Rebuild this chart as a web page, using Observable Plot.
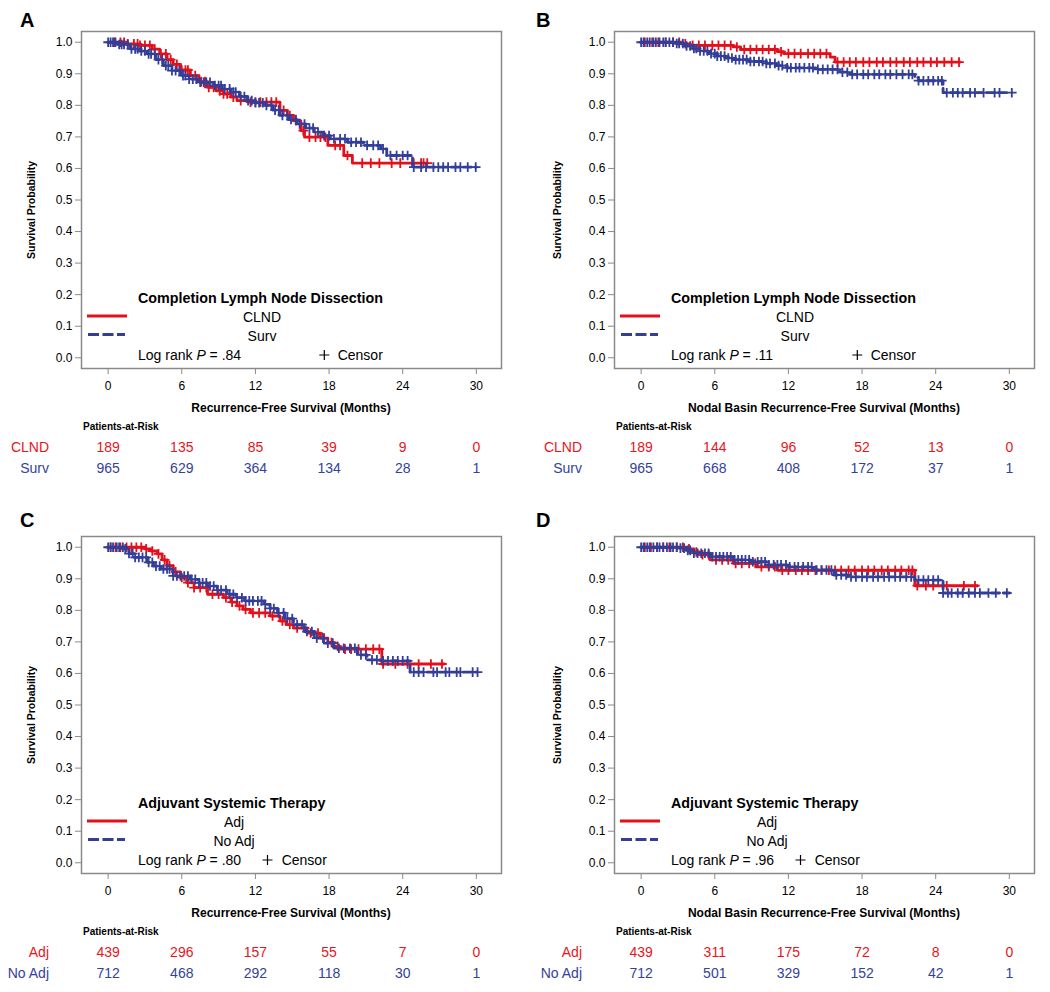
<!DOCTYPE html>
<html><head><meta charset="utf-8">
<script src="https://cdn.jsdelivr.net/npm/d3@7"></script>
<script src="https://cdn.jsdelivr.net/npm/@observablehq/plot@0.6"></script>
<style>
body{margin:0;background:#fff;overflow:hidden}
#wrap{position:relative;width:1050px;height:992px;background:#fff}
.panel{position:absolute}
</style></head><body><div id="wrap"></div>
<script>
// ---------- ticks ----------
const xTicks = [0, 6, 12, 18, 24, 30];
const yTicks = [0, 0.1, 0.2, 0.3, 0.4, 0.5, 0.6, 0.7, 0.8, 0.9, 1.0];
const riskTimes = [0, 6, 12, 18, 24, 30];

// ---------- text ----------
const panelLetters = ["A", "B", "C", "D"];
const xLabels = [
  "Recurrence-Free Survival (Months)",
  "Nodal Basin Recurrence-Free Survival (Months)",
  "Recurrence-Free Survival (Months)",
  "Nodal Basin Recurrence-Free Survival (Months)"
];
const legendTitles = [
  "Completion Lymph Node Dissection",
  "Completion Lymph Node Dissection",
  "Adjuvant Systemic Therapy",
  "Adjuvant Systemic Therapy"
];
const groupNames = [["CLND", "Surv"], ["CLND", "Surv"], ["Adj", "No Adj"], ["Adj", "No Adj"]];
const pValues = [".84", ".11", ".80", ".96"];

// ---------- KM step curves [month, survival] ----------
const A_CLND = [[0,1.0],[1.5,0.995],[2.5,0.99],[3.6,0.978],[4.2,0.963],[4.8,0.945],[5.3,0.93],[5.9,0.912],[6.7,0.894],[7.4,0.875],[8.1,0.857],[8.8,0.846],[9.4,0.836],[10.0,0.826],[10.5,0.815],[11.5,0.81],[14.0,0.784],[14.6,0.768],[15.1,0.751],[15.7,0.72],[16.0,0.699],[17.9,0.673],[19.2,0.641],[19.9,0.617],[26.0,0.617]];
const A_Surv = [[0,1.0],[0.8,0.993],[1.8,0.979],[2.5,0.972],[3.2,0.963],[3.9,0.945],[4.5,0.926],[5.2,0.91],[5.9,0.894],[6.6,0.883],[7.3,0.873],[8.6,0.863],[9.3,0.852],[10.0,0.842],[10.7,0.828],[11.3,0.815],[12.0,0.808],[12.7,0.8],[13.4,0.785],[14.0,0.768],[14.7,0.755],[15.4,0.741],[16.1,0.728],[16.8,0.715],[17.5,0.704],[18.1,0.694],[19.5,0.683],[20.8,0.673],[22.2,0.662],[22.7,0.641],[24.8,0.604],[30.0,0.604]];
const B_CLND = [[0,1.0],[3.3,0.995],[4.0,0.99],[7.5,0.985],[8.1,0.977],[11.1,0.97],[11.6,0.964],[15.4,0.953],[15.8,0.937],[26.0,0.937]];
const B_Surv = [[0,1.0],[2.9,0.996],[3.6,0.988],[4.2,0.98],[4.8,0.972],[5.5,0.964],[6.2,0.956],[6.9,0.95],[7.5,0.945],[8.8,0.939],[10.2,0.933],[11.0,0.926],[11.9,0.919],[14.3,0.914],[16.2,0.905],[17.0,0.898],[22.3,0.888],[22.6,0.878],[24.6,0.84],[30.0,0.84]];
const C_Adj = [[0,1.0],[3.0,0.995],[3.5,0.988],[4.0,0.979],[4.4,0.96],[4.8,0.942],[5.3,0.922],[5.9,0.904],[6.4,0.888],[7.0,0.872],[8.1,0.851],[9.4,0.84],[10.0,0.826],[10.5,0.814],[11.0,0.803],[11.6,0.792],[13.2,0.782],[14.0,0.766],[14.5,0.755],[15.1,0.744],[16.2,0.728],[17.3,0.712],[17.9,0.698],[18.4,0.686],[18.9,0.677],[22.3,0.63],[27.4,0.63]];
const C_NoAdj = [[0,1.0],[1.3,0.995],[1.7,0.98],[2.1,0.968],[3.2,0.952],[3.7,0.94],[4.3,0.931],[5.3,0.909],[6.7,0.898],[7.4,0.887],[8.1,0.877],[8.9,0.864],[9.7,0.851],[10.4,0.84],[11.1,0.83],[12.7,0.819],[13.2,0.806],[13.8,0.792],[14.4,0.774],[15.1,0.755],[16.0,0.733],[16.8,0.712],[17.6,0.696],[18.4,0.68],[20.3,0.659],[21.1,0.643],[22.3,0.64],[24.6,0.604],[30.0,0.604]];
const D_Adj = [[0,1.0],[3.7,0.995],[4.3,0.985],[4.8,0.976],[5.6,0.96],[7.5,0.949],[9.4,0.938],[11.1,0.927],[22.3,0.878],[27.4,0.878]];
const D_NoAdj = [[0,1.0],[3.0,0.997],[3.7,0.99],[4.3,0.981],[5.6,0.97],[7.5,0.96],[8.9,0.954],[10.2,0.944],[11.9,0.938],[14.0,0.928],[15.7,0.912],[16.8,0.906],[22.3,0.896],[24.6,0.855],[30.0,0.855]];

// ---------- censored times (months) ----------
const A_CLND_cens = [0.5,1.0,1.3,1.6,2.1,2.4,2.6,3.0,3.4,3.8,4.3,4.7,5.1,5.6,6.0,6.3,6.5,7.1,7.6,7.9,8.2,8.6,9.1,9.4,9.7,10.2,10.8,11.6,12.0,12.4,12.9,13.3,13.7,14.3,14.8,15.3,15.9,16.4,16.9,17.3,17.7,18.5,18.9,19.5,20.7,21.4,22.1,23.1,23.8,24.9,25.5,25.7,26.0];
const A_Surv_cens = [0.0,0.2,0.4,0.6,0.9,1.1,1.3,1.6,1.9,2.2,2.4,2.7,3.0,3.3,3.5,3.8,4.1,4.4,4.7,4.9,5.2,5.5,5.8,6.1,6.3,6.6,6.9,7.2,7.5,7.8,8.0,8.3,8.7,9.0,9.2,9.5,9.9,10.2,10.4,10.8,11.1,11.4,11.7,12.0,12.3,12.6,12.9,13.3,13.6,13.9,14.2,14.6,14.9,15.3,15.6,16.0,16.4,16.7,17.1,17.6,18.0,18.4,18.9,19.3,19.8,20.2,20.6,21.1,21.6,22.0,22.4,23.0,23.5,24.0,24.4,24.9,25.5,25.9,26.5,26.9,27.3,27.7,28.3,28.7,29.3,29.95];
const B_CLND_cens = [0.3,0.9,1.4,2.0,2.6,3.1,3.6,4.2,4.7,5.2,5.8,6.3,6.8,7.3,7.8,8.4,8.9,9.4,9.9,10.4,10.9,11.4,12.0,12.5,13.0,13.6,14.1,14.6,15.1,16.0,16.5,17.0,17.5,18.1,18.6,19.2,19.7,20.3,20.8,21.4,21.9,22.5,23.0,23.6,24.1,24.7,25.3,25.9];
const B_Surv_cens = [0.0,0.2,0.5,0.7,1.0,1.2,1.5,1.8,2.0,2.3,2.6,2.9,3.1,3.4,3.7,4.0,4.3,4.5,4.8,5.1,5.4,5.7,6.0,6.2,6.5,6.8,7.1,7.4,7.7,8.0,8.3,8.6,8.9,9.2,9.6,9.9,10.2,10.5,10.9,11.2,11.5,11.9,12.2,12.6,12.9,13.3,13.7,14.0,14.4,14.8,15.2,15.6,16.0,16.4,16.8,17.2,17.6,18.1,18.5,19.0,19.4,19.9,20.3,20.8,21.3,21.8,22.1,22.6,23.0,23.4,23.8,24.2,24.5,24.9,25.4,25.8,26.2,26.8,27.2,27.9,28.8,29.2,30.2];
const C_Adj_cens = [0.2,0.6,1.0,1.5,1.9,2.3,2.7,3.1,3.6,4.1,4.6,5.0,5.5,6.0,6.5,7.0,7.5,8.0,8.5,9.0,9.6,10.1,10.7,11.2,11.8,12.3,12.8,13.4,14.2,14.8,15.4,16.0,16.5,17.1,17.6,18.2,18.7,19.3,19.8,20.4,21.0,21.6,22.1,22.4,23.4,24.4,25.3,26.3,27.2];
const C_NoAdj_cens = [0.0,0.2,0.4,0.7,0.9,1.2,1.4,1.7,2.0,2.2,2.5,2.8,3.1,3.3,3.6,3.9,4.2,4.5,4.8,5.0,5.3,5.6,5.9,6.2,6.5,6.8,7.1,7.4,7.7,8.0,8.3,8.6,8.9,9.2,9.6,9.9,10.2,10.5,10.9,11.2,11.5,11.8,12.2,12.5,12.8,13.2,13.5,13.9,14.3,14.6,15.0,15.4,15.8,16.2,16.6,17.0,17.5,17.9,18.3,18.8,19.2,19.7,20.1,20.6,21.0,21.5,21.9,22.4,22.8,23.2,23.6,24.0,24.4,24.9,25.3,25.7,26.5,26.8,27.5,27.8,28.4,28.7,29.7,30.1];
const D_Adj_cens = [0.3,0.8,1.3,1.8,2.3,2.9,3.4,3.9,4.5,5.0,5.5,6.1,6.6,7.1,7.7,8.2,8.8,9.3,9.8,10.4,10.9,11.5,12.0,12.6,13.1,13.6,14.2,14.7,15.3,15.8,16.3,16.9,17.4,18.0,18.5,19.0,19.6,20.1,20.7,21.2,21.8,22.1,22.5,23.2,23.8,24.9,26.3,27.2];
const D_NoAdj_cens = [0.0,0.2,0.5,0.7,1.0,1.3,1.5,1.8,2.1,2.4,2.6,2.9,3.2,3.5,3.8,4.0,4.3,4.6,4.9,5.2,5.5,5.8,6.1,6.4,6.7,7.0,7.3,7.6,7.9,8.2,8.5,8.8,9.1,9.5,9.8,10.1,10.4,10.8,11.1,11.4,11.8,12.1,12.5,12.8,13.2,13.6,13.9,14.3,14.7,15.1,15.5,15.9,16.3,16.7,17.1,17.5,18.0,18.4,18.9,19.3,19.8,20.2,20.7,21.1,21.6,22.0,22.6,23.0,23.4,23.8,24.2,24.6,25.0,25.3,25.8,26.2,26.7,27.2,27.6,28.3,28.9,29.8];

// ---------- patients at risk ----------
const A_CLND_risk = [189, 135, 85, 39, 9, 0];
const A_Surv_risk = [965, 629, 364, 134, 28, 1];
const B_CLND_risk = [189, 144, 96, 52, 13, 0];
const B_Surv_risk = [965, 668, 408, 172, 37, 1];
const C_Adj_risk = [439, 296, 157, 55, 7, 0];
const C_NoAdj_risk = [712, 468, 292, 118, 30, 1];
const D_Adj_risk = [439, 311, 175, 72, 8, 0];
const D_NoAdj_risk = [712, 501, 329, 152, 42, 1];

// ---------- styling ----------
const RED = "#E3101B";
const BLUE = "#323E98";
const RED_TXT = "#E8141C";
const BLUE_TXT = "#34429A";
const GRAY = "#8a8a8a";
const FONT = "'Liberation Sans', Arial, Helvetica, sans-serif";

const panels = [
  {curves: [A_CLND, A_Surv], cens: [A_CLND_cens, A_Surv_cens], risk: [A_CLND_risk, A_Surv_risk]},
  {curves: [B_CLND, B_Surv], cens: [B_CLND_cens, B_Surv_cens], risk: [B_CLND_risk, B_Surv_risk]},
  {curves: [C_Adj, C_NoAdj], cens: [C_Adj_cens, C_NoAdj_cens], risk: [C_Adj_risk, C_NoAdj_risk]},
  {curves: [D_Adj, D_NoAdj], cens: [D_Adj_cens, D_NoAdj_cens], risk: [D_Adj_risk, D_NoAdj_risk]}
];
// layout (pixels)
const pos = [[0, 0], [533, 0], [0, 505], [533, 505]];
const letterX = [20, 3, 20, 3];
const letterY = [26.7, 26.7, 21.7, 21.7];
const ylabX = [34.5, 27.8, 34.5, 27.8];
const entryCenter = [262, 262, 234, 234];
const plusX = [324.3, 324.3, 267.5, 267.5];
const censorX = [337.7, 337.7, 281.7, 281.7];

function stepAt(curve, t) {
  let s = curve[0][1];
  for (const [ti, si] of curve) if (ti <= t) s = si;
  return s;
}

const wrap = document.getElementById("wrap");
const colors = [RED, BLUE];
const txtColors = [RED_TXT, BLUE_TXT];
const dashes = [null, "8,4"];
const rowDy = [78.7, 100.3];

panels.forEach((p, k) => {
  const marks = [
    Plot.frame({stroke: GRAY, strokeWidth: 1.5}),
    Plot.axisY({ticks: yTicks, tickSize: 6, tickPadding: 3, tickFormat: d3.format(".1f"), fontSize: 12, stroke: GRAY, fill: "black", label: null}),
    Plot.axisX({ticks: xTicks, tickSize: 6, tickPadding: 7, tickFormat: d => String(d), fontSize: 12, stroke: GRAY, fill: "black", label: null})
  ];
  [0, 1].forEach(j => {
    const curve = p.curves[j];
    marks.push(Plot.line(curve, {x: d => d[0], y: d => d[1], curve: "step-after", stroke: colors[j], strokeWidth: 2.8, strokeDasharray: dashes[j]}));
    marks.push(Plot.dot(p.cens[j], {x: d => d, y: d => stepAt(curve, d), symbol: "plus", r: 3.2, stroke: colors[j], strokeWidth: 1.8}));
    marks.push(Plot.text(riskTimes, {x: d => d, text: (d, i) => String(p.risk[j][i]), frameAnchor: "bottom", lineAnchor: "middle", dy: rowDy[j], fill: txtColors[j], fontSize: 14}));
  });
  const chart = Plot.plot({
    width: 517, height: 487,
    marginLeft: 81, marginRight: 16, marginTop: 31, marginBottom: 119,
    x: {domain: [-2.17, 32.05]},
    y: {domain: [-0.034, 1.034]},
    style: {fontFamily: FONT, background: "white", overflow: "visible"},
    marks
  });
  const div = document.createElement("div");
  div.className = "panel";
  div.style.left = pos[k][0] + "px";
  div.style.top = pos[k][1] + "px";
  div.appendChild(chart);
  wrap.appendChild(div);

  const svg = d3.select(chart);
  const g = svg.append("g").attr("font-family", FONT).attr("fill", "black").attr("text-anchor", "start");
  const T = (x, y, size, str, o = {}) => {
    const t = g.append("text").attr("x", x).attr("y", y).attr("font-size", size)
      .attr("text-anchor", o.anchor || "start");
    if (o.bold) t.attr("font-weight", "bold");
    if (o.fill) t.attr("fill", o.fill);
    if (str != null) t.text(str);
    return t;
  };
  // panel letter
  T(letterX[k], letterY[k], 20, panelLetters[k], {bold: true});
  // y label
  g.append("text").attr("transform", `translate(${ylabX[k]},210) rotate(-90)`).attr("text-anchor", "middle")
    .attr("font-size", 10.5).attr("font-weight", "bold").text("Survival Probability");
  // x label
  T(291, 411.7, 12, xLabels[k], {bold: true, anchor: "middle"});
  // patients at risk header
  T(83, 430, 10, "Patients-at-Risk", {bold: true});
  // row labels
  T(49, 451.7, 14, groupNames[k][0], {anchor: "end", fill: RED_TXT});
  T(49, 473.3, 14, groupNames[k][1], {anchor: "end", fill: BLUE_TXT});
  // legend
  T(138, 302.6, 14.3, legendTitles[k], {bold: true});
  g.append("line").attr("x1", 87).attr("x2", 127).attr("y1", 316).attr("y2", 316).attr("stroke", RED).attr("stroke-width", 3.2);
  g.append("line").attr("x1", 88).attr("x2", 125).attr("y1", 334.5).attr("y2", 334.5).attr("stroke", BLUE).attr("stroke-width", 3.2).attr("stroke-dasharray", "11,3.5");
  T(entryCenter[k], 321.7, 14, groupNames[k][0], {anchor: "middle"});
  T(entryCenter[k], 340.7, 14, groupNames[k][1], {anchor: "middle"});
  const lr = T(138, 360, 14, null);
  lr.append("tspan").text("Log rank ");
  lr.append("tspan").attr("font-style", "italic").text("P");
  lr.append("tspan").text(" = " + pValues[k]);
  g.append("path").attr("d", `M${plusX[k] - 5},355H${plusX[k] + 5}M${plusX[k]},350V360`).attr("stroke", "black").attr("stroke-width", 1.2).attr("fill", "none");
  T(censorX[k], 360, 14, "Censor");
});
</script></body></html>
